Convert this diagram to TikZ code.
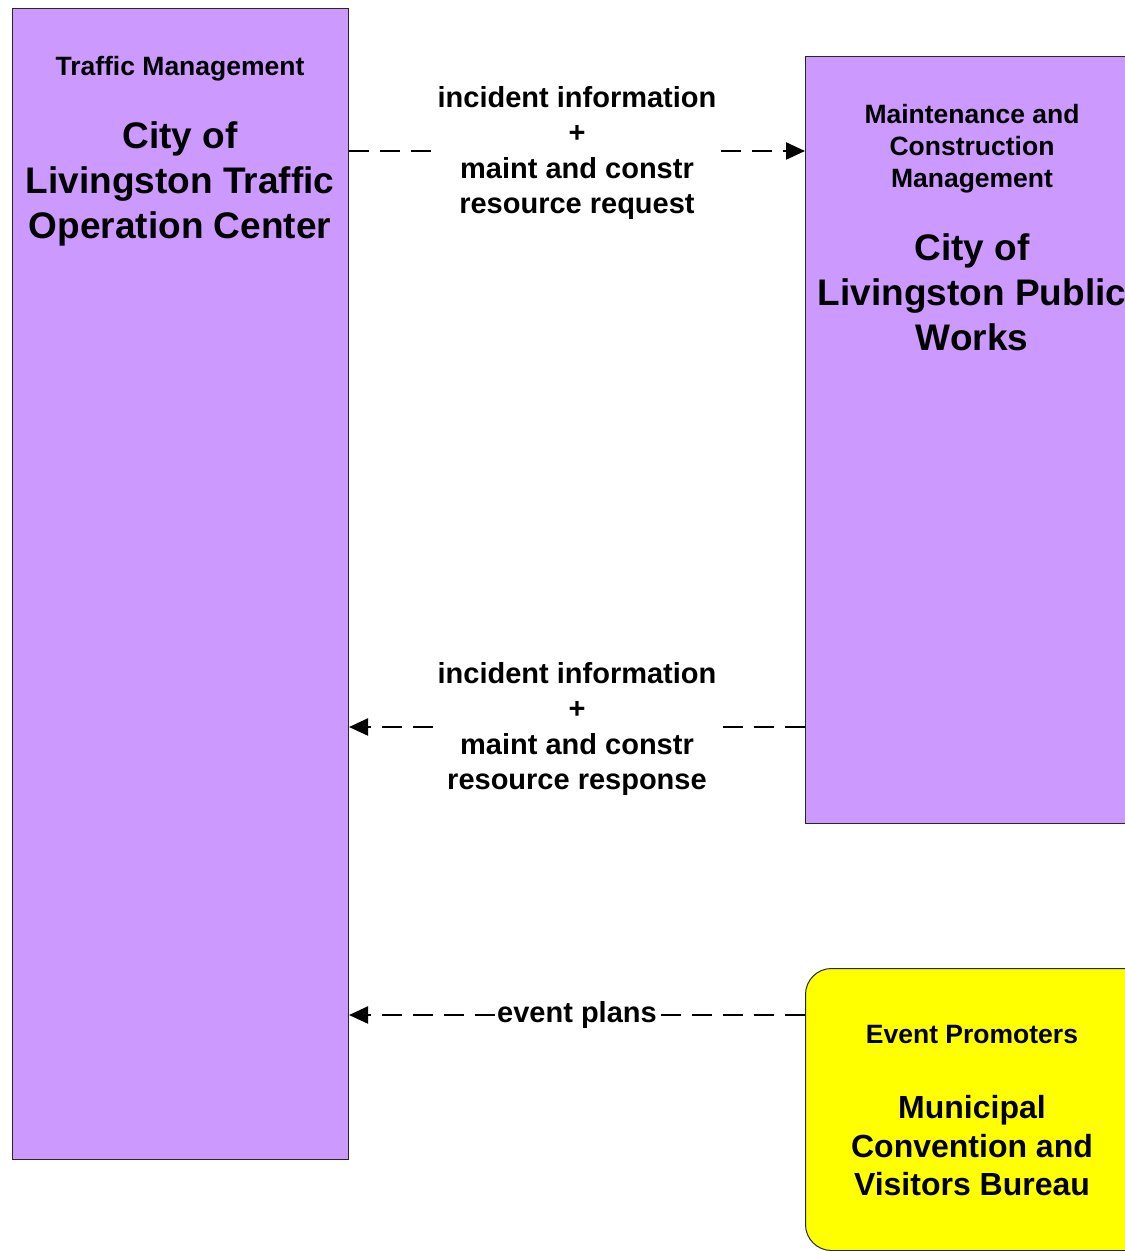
\documentclass[tikz,border=0pt]{standalone}
\usepackage{fontspec}
\setmainfont{Liberation Sans}
\usetikzlibrary{arrows.meta}
\definecolor{tmlilac}{HTML}{CC99FF}
\definecolor{epyellow}{HTML}{FFFF00}

\begin{document}
\begin{tikzpicture}[x=1pt, y=-1pt,
  tmbox/.style={draw=black!85, line width=1pt, fill=tmlilac, anchor=north west, inner sep=0pt},
  epbox/.style={tmbox, fill=epyellow, rounded corners=26pt},
  subtitle/.style={font=\bfseries\fontsize{26.5}{32}\selectfont, align=center, inner sep=0pt},
  bigtitle/.style={font=\bfseries\fontsize{37}{45}\selectfont, align=center, inner sep=0pt},
  flow/.style={line width=2.2pt, dash pattern=on 20pt off 11pt, -{Triangle[length=19pt,width=17pt]}},
  flowlabel/.style={fill=white, font=\bfseries\fontsize{29}{35.5}\selectfont, align=center, inner sep=1pt}]

% Bildrand
\useasboundingbox (0,0) rectangle (1125,1251);
\clip (0,0) rectangle (1125,1251);

% Traffic Management
\node[tmbox, minimum width=336pt, minimum height=1151pt] (toc) at (12,8) {};
\node[subtitle] (toc-sub) at (180,69) {Traffic Management};
\node[bigtitle] (toc-name) at (180,184) {City of\\Livingston Traffic\\Operation Center};

% Maintenance and Construction Management
\node[tmbox, minimum width=400pt, minimum height=767pt] (pw) at (805,56) {};
\node[subtitle] (pw-sub) at (972,149) {Maintenance and\\Construction\\Management};
\node[bigtitle] (pw-name) at (972,292) {City of\\Livingston Public\\Works};

% Event Promoters
\node[epbox, minimum width=400pt, minimum height=282pt] (cvb) at (805,968) {};
\node[subtitle] (cvb-sub) at (972,1034) {Event Promoters};
\node[bigtitle, font=\bfseries\fontsize{32}{38.5}\selectfont] (cvb-name) at (972,1146) {Municipal\\Convention and\\Visitors Bureau};

% Flows
\coordinate (pw-req) at ([yshift=-95pt]pw.north west);
\coordinate (pw-resp) at ([yshift=-671pt]pw.north west);
\coordinate (cvb-plan) at ([yshift=-47pt]cvb.north west);

\draw[flow] (toc.east |- pw-req) -- node[flowlabel, yshift=-2pt] (req-label) {incident information\\+\\maint and constr\\resource request} (pw-req);
\draw[flow] (pw-resp) -- node[flowlabel, yshift=-2pt] (resp-label) {incident information\\+\\maint and constr\\resource response} (toc.east |- pw-resp);
\draw[flow] (cvb-plan) -- node[flowlabel, inner sep=0pt] (plan-label) {event plans} (toc.east |- cvb-plan);

\end{tikzpicture}
\end{document}
